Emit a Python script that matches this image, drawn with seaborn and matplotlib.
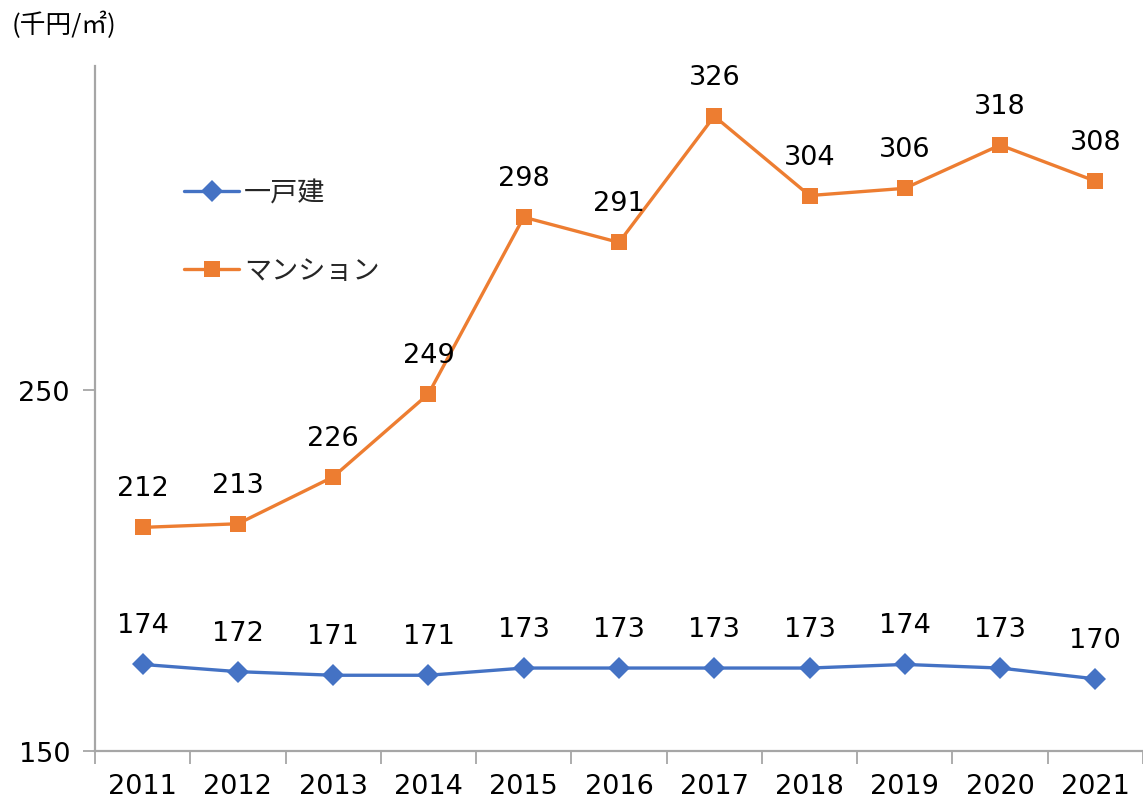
import matplotlib
matplotlib.use("Agg")
import matplotlib.pyplot as plt
import seaborn as sns
import pandas as pd
from matplotlib.ticker import FixedLocator

years = ["2011", "2012", "2013", "2014", "2015", "2016", "2017", "2018", "2019", "2020", "2021"]
series_names = ["一戸建", "マンション"]
detached = [174, 172, 171, 171, 173, 173, 173, 173, 174, 173, 170]
condo = [212, 213, 226, 249, 298, 291, 326, 304, 306, 318, 308]
y_ticks = [150, 250]

colors = {"一戸建": "#4472C4", "マンション": "#ED7D31"}
markers = {"一戸建": "D", "マンション": "s"}

df = pd.DataFrame({
    "pos": list(range(len(years))) * 2,
    "year": years * 2,
    "value": detached + condo,
    "type": [series_names[0]] * len(years) + [series_names[1]] * len(years),
})

sns.set_theme(style="white")
plt.rcParams["font.family"] = ["DejaVu Sans", "Noto Sans CJK JP"]

fig = plt.figure(figsize=(11.43, 8.03), dpi=100)
ax = fig.add_axes([95 / 1143, 51 / 803, 1 - 95 / 1143, (752 - 66.7) / 803])

sns.lineplot(data=df, x="pos", y="value", hue="type", style="type",
             palette=colors, markers=markers, dashes=False, markersize=11.5,
             markeredgewidth=0, linewidth=2.4, legend=False, ax=ax)

# per-point value labels above each marker
for name, vals in zip(series_names, [detached, condo]):
    for i, v in enumerate(vals):
        ax.annotate(str(v), (i, v), xytext=(0, 39), textcoords="offset pixels",
                    ha="center", va="center", fontsize=19.5, color="#000000",
                    annotation_clip=False)

ax.set_xlim(-0.5, len(years) - 0.5)
ax.set_ylim(150, 340)

ax.set_xticks(range(len(years)))
ax.set_xticklabels(years, fontsize=19.5, color="#000000")
ax.xaxis.set_minor_locator(FixedLocator([i - 0.5 for i in range(len(years) + 1)]))
ax.tick_params(axis="x", which="major", length=0, pad=16)
ax.tick_params(axis="x", which="minor", length=9, width=1.3, color="#A6A6A6", bottom=True)

ax.set_yticks(y_ticks)
ax.set_yticklabels([str(t) for t in y_ticks], fontsize=19.5, color="#000000")
ax.tick_params(axis="y", which="major", length=9, width=1.3, color="#A6A6A6", left=True, pad=9)

for s in ["top", "right"]:
    ax.spines[s].set_visible(False)
for s in ["left", "bottom"]:
    ax.spines[s].set_color("#A6A6A6")
    ax.spines[s].set_linewidth(1.6)

ax.set_xlabel("")
ax.set_ylabel("")
ax.grid(False)

lines = ax.get_lines()[:2]
leg = ax.legend(lines, series_names, loc="upper left", bbox_to_anchor=(0.075, 0.848),
                frameon=False, fontsize=19.5, labelspacing=1.9, handlelength=2.0,
                handletextpad=0.2, borderaxespad=0)

fig.text(12 / 1143, 1 - 25 / 803, "(千円/㎡)", fontsize=18.5, va="center", ha="left",
         color="#000000", family=["Noto Sans CJK JP", "DejaVu Sans"])

fig.savefig("out.png", dpi=100)
